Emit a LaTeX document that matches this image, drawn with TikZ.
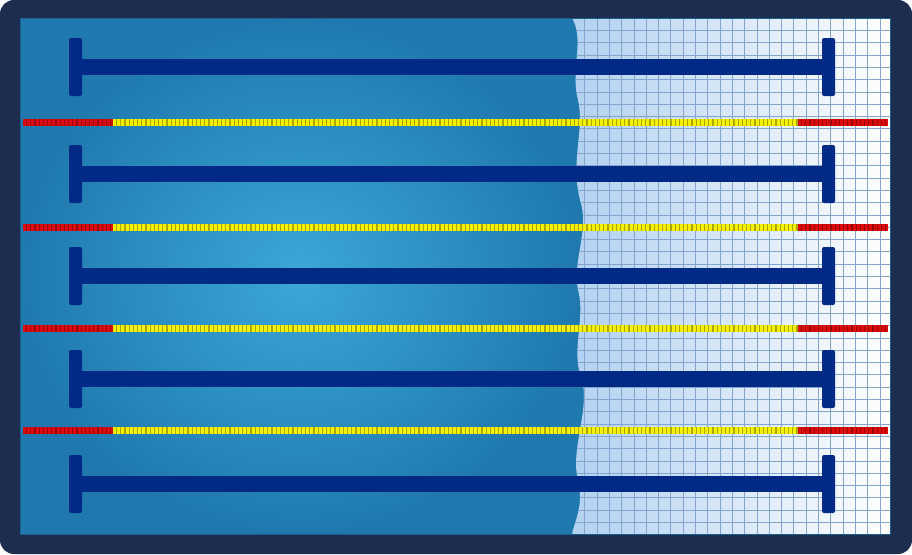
\documentclass[tikz,border=0pt]{standalone}
\usetikzlibrary{shadings}
\definecolor{frame}{HTML}{1D2D4F}
\definecolor{wc}{HTML}{3BA8D8}
\definecolor{we}{HTML}{1F79AE}
\definecolor{lane}{HTML}{002A86}
\definecolor{rred}{HTML}{DD0A0A}
\definecolor{ryel}{HTML}{F5F000}
\definecolor{lb}{HTML}{AFCFF0}
\definecolor{gridc}{HTML}{4F7FB8}
\begin{document}
\begin{tikzpicture}[x=1pt,y=-1pt,
  lanebar/.style={fill=lane,rounded corners=2pt},
  ropebase/.style={line width=7pt,draw=#1!70!black},
  ropedash/.style={line width=7pt,draw=#1,dash pattern=on 3pt off 1.2pt}]
\useasboundingbox (0,0) rectangle (912,554);
\fill[frame,rounded corners=14pt] (0,0) rectangle (912,554);
\fill[we] (20,18) rectangle (890,534);
\shade[inner color=wc,outer color=we] (20,18) rectangle (580,534);
\begin{scope}
\clip (572,18) .. controls (585,40) and (570,70) .. (578,100) .. controls (585,130) and (570,160) .. (580,200)
 .. controls (590,230) and (572,260) .. (578,290) .. controls (586,320) and (570,350) .. (582,380)
 .. controls (590,410) and (570,450) .. (578,480) .. controls (584,505) and (575,520) .. (572,534)
 -- (890,534) -- (890,18) -- cycle;
\shade[left color=lb,right color=white] (560,18) rectangle (890,534);
\foreach \k in {0,...,28} \draw[gridc!70,line width=0.5pt] (560+\k*12.3,18) -- (560+\k*12.3,534);
\foreach \k in {0,...,42} \draw[gridc!70,line width=0.5pt] (560,18+\k*12.3) -- (890,18+\k*12.3);
\end{scope}
\draw[we!80!black,line width=0.8pt] (20,18) rectangle (890,534);
\foreach \y [count=\i] in {67,174,276,379,484}{
  \fill[lanebar] (69,\y-29) rectangle (82,\y+29);
  \fill[lanebar] (822,\y-29) rectangle (835,\y+29);
  \fill[lane] (76,\y-8) rectangle (829,\y+8);
  \node[inner sep=0] (L\i) at (452,\y) {};
}
\foreach \y [count=\i] in {122,227,328,430}{
  \coordinate (ra\i) at (23,\y); \coordinate (rb\i) at (113,\y);
  \coordinate (rc\i) at (798,\y); \coordinate (rd\i) at (888,\y);
  \draw[ropebase=rred] (ra\i) -- (rb\i); \draw[ropedash=rred] (ra\i) -- (rb\i);
  \draw[ropebase=ryel] (rb\i) -- (rc\i); \draw[ropedash=ryel] (rb\i) -- (rc\i);
  \draw[ropebase=rred] (rc\i) -- (rd\i); \draw[ropedash=rred] (rc\i) -- (rd\i);
}
\end{tikzpicture}
\end{document}
